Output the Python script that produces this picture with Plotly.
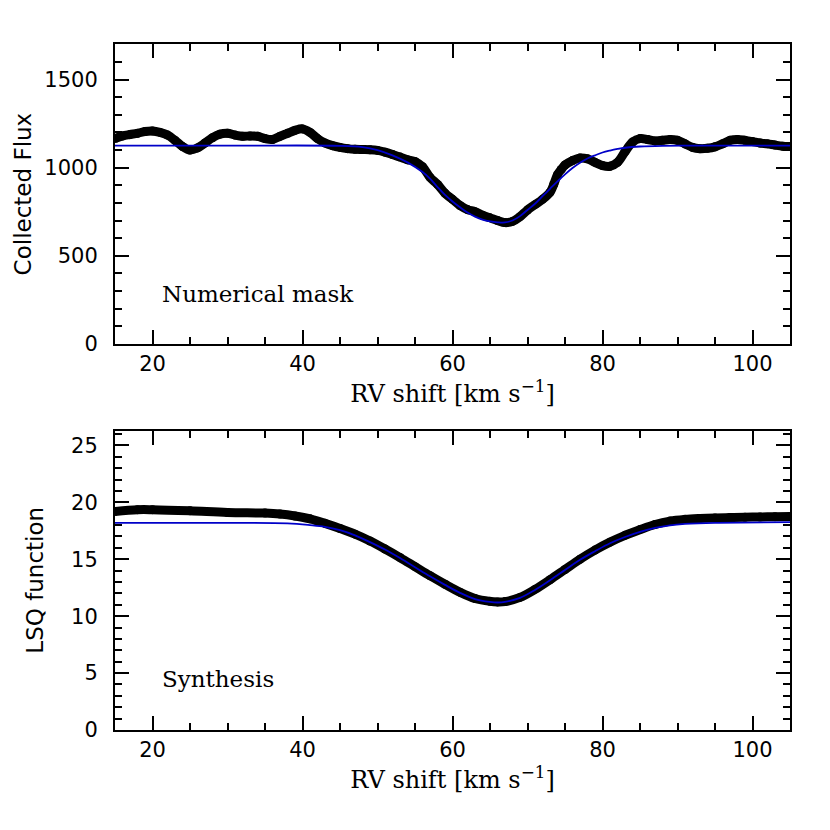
import plotly.graph_objects as go

# top panel: collected flux vs RV shift (numerical mask)
rv_top = [15, 16, 17, 18, 19, 20, 21, 22, 23, 24, 25, 26, 27, 28, 29, 30, 31, 32, 33, 34,
          35, 36, 37, 38, 39, 40, 41, 42, 43, 44, 45, 46, 47, 48, 49, 50, 51, 52, 53, 54,
          55, 56, 57, 58, 59, 60, 61, 62, 63, 64, 65, 66, 67, 68, 69, 70, 71, 72, 73, 73.5,
          74, 74.5, 75, 76, 77, 78, 79, 80, 81, 82, 83, 84, 85, 86, 87, 88, 89, 90, 91, 92,
          93, 94, 95, 96, 97, 98, 99, 100, 101, 102, 103, 104, 105]
flux_top = [1165, 1180, 1188, 1195, 1205, 1208, 1200, 1185, 1155, 1120, 1100, 1112, 1140, 1170,
            1190, 1195, 1185, 1178, 1180, 1178, 1165, 1160, 1178, 1195, 1212, 1220, 1200, 1165,
            1140, 1125, 1115, 1108, 1104, 1103, 1102, 1098, 1088, 1075, 1060, 1045, 1035, 1005,
            945, 905, 855, 820, 785, 762, 750, 730, 715, 700, 688, 695, 722, 760, 790, 820, 860,
            905, 960, 990, 1015, 1040, 1055, 1050, 1030, 1012, 1008, 1030, 1090, 1145, 1165,
            1160, 1152, 1155, 1160, 1155, 1135, 1115, 1108, 1110, 1118, 1135, 1155, 1160, 1155,
            1148, 1140, 1135, 1128, 1122, 1120]

rv_top_fit = [15, 30, 45, 48, 50, 52, 54, 56, 57, 58, 59, 60, 61, 62, 63, 64, 65, 66, 67, 68,
              69, 70, 71, 72, 73, 74, 75, 76, 77, 78, 79, 80, 81, 82, 83, 85, 88, 92, 105]
fit_top = [1125, 1125, 1124, 1117, 1100, 1070, 1030, 975, 938, 890, 845, 808, 775, 745, 722,
           705, 695, 690, 689, 700, 725, 760, 795, 838, 880, 922, 962, 998, 1028, 1052, 1070,
           1086, 1097, 1106, 1113, 1120, 1124, 1125, 1125]

# bottom panel: LSQ function vs RV shift (synthesis)
rv_bot = [15, 18, 20, 25, 30, 35, 37, 39, 41, 43, 45, 47, 49, 51, 53, 55, 57, 59, 61, 63, 65,
          66, 67, 69, 71, 73, 75, 77, 79, 81, 83, 85, 87, 89, 91, 93, 95, 97, 99, 101, 103, 105]
lsq_bot = [19.2, 19.35, 19.35, 19.25, 19.1, 19.05, 18.97, 18.8, 18.55, 18.15, 17.7, 17.2, 16.6,
           15.9, 15.15, 14.35, 13.55, 12.8, 12.1, 11.55, 11.3, 11.25, 11.28, 11.65, 12.35, 13.2,
           14.1, 15.0, 15.8, 16.5, 17.1, 17.6, 18.05, 18.35, 18.5, 18.58, 18.63, 18.66, 18.69,
           18.71, 18.74, 18.76]

rv_bot_fit = [15, 30, 38, 41, 43, 45, 47, 49, 51, 53, 55, 57, 59, 61, 63, 65, 66, 67, 69, 71,
              73, 75, 77, 79, 81, 83, 85, 87, 89, 91, 95, 105]
fit_bot = [18.2, 18.2, 18.15, 18.0, 17.85, 17.55, 17.1, 16.5, 15.85, 15.1, 14.3, 13.5, 12.75,
           12.05, 11.5, 11.25, 11.2, 11.25, 11.6, 12.3, 13.15, 14.05, 14.95, 15.7, 16.4, 16.95,
           17.4, 17.75, 17.98, 18.1, 18.2, 18.25]

BLUE = "#0000c8"
SANS = "DejaVu Sans"
SERIF = "DejaVu Serif"
W = 830
H = 812


def px_x(p):
    return p / W


def px_y(p):
    return 1 - p / H


fig = go.Figure()
fig.add_trace(go.Scatter(x=rv_top, y=flux_top, mode="lines+markers", line=dict(color="black", width=9, shape="spline"),
                         marker=dict(color="black", size=9), xaxis="x", yaxis="y"))
fig.add_trace(go.Scatter(x=rv_top_fit, y=fit_top, mode="lines", line=dict(color=BLUE, width=1.8, shape="spline"),
                         xaxis="x", yaxis="y"))
fig.add_trace(go.Scatter(x=rv_bot, y=lsq_bot, mode="lines+markers", line=dict(color="black", width=9, shape="spline"),
                         marker=dict(color="black", size=9), xaxis="x2", yaxis="y2"))
fig.add_trace(go.Scatter(x=rv_bot_fit, y=fit_bot, mode="lines", line=dict(color=BLUE, width=1.8, shape="spline"),
                         xaxis="x2", yaxis="y2"))

xdom = [px_x(115), px_x(790)]
axis_common = dict(
    showline=True, linecolor="black", linewidth=2, mirror="allticks",
    ticks="inside", ticklen=14, tickwidth=2, tickcolor="black",
    showgrid=False, zeroline=False,
    tickfont=dict(family=SANS, size=21, color="black"),
)
x_common = dict(axis_common, range=[15, 105], tickvals=[20, 40, 60, 80, 100], ticklabelstandoff=0,
                minor=dict(ticks="inside", ticklen=7, tickwidth=2, tickcolor="black", dtick=5, tick0=0),
                title=dict(text="RV shift [km s<sup>−1</sup>]", font=dict(family=SERIF, size=24, color="black"),
                           standoff=8))
y_minor = dict(ticks="inside", ticklen=7, tickwidth=2, tickcolor="black", tick0=0)

fig.update_layout(
    width=W, height=H,
    margin=dict(l=0, r=0, t=0, b=0),
    paper_bgcolor="white", plot_bgcolor="white",
    showlegend=False,
    xaxis=dict(x_common, domain=xdom, anchor="y"),
    yaxis=dict(axis_common, domain=[px_y(349), px_y(45)], anchor="x", range=[0, 1700],
               tickvals=[0, 500, 1000, 1500], ticklabelstandoff=11, minor=dict(y_minor, dtick=100),
               title=dict(text="Collected Flux", font=dict(family=SANS, size=23, color="black"), standoff=6)),
    xaxis2=dict(x_common, domain=xdom, anchor="y2"),
    yaxis2=dict(axis_common, domain=[px_y(741), px_y(437)], anchor="x2", range=[0, 26.3],
                tickvals=[0, 5, 10, 15, 20, 25], ticklabelstandoff=11, minor=dict(y_minor, dtick=1),
                title=dict(text="LSQ function", font=dict(family=SANS, size=23, color="black"), standoff=21)),
)

fig.add_annotation(text="Numerical mask", x=21, y=285, xref="x", yref="y", xanchor="left", yanchor="middle",
                   showarrow=False, font=dict(family=SERIF, size=23, color="black"))
fig.add_annotation(text="Synthesis", x=21, y=4.5, xref="x2", yref="y2", xanchor="left", yanchor="middle",
                   showarrow=False, font=dict(family=SERIF, size=23, color="black"))

# sit the figure at the window origin
page_css = (
    "document.body.style.margin='0';"
    "document.body.style.overflow='hidden';"
    "document.documentElement.style.overflow='hidden';"
)
fig.write_html("out.html", post_script=page_css, config={"displayModeBar": False})
